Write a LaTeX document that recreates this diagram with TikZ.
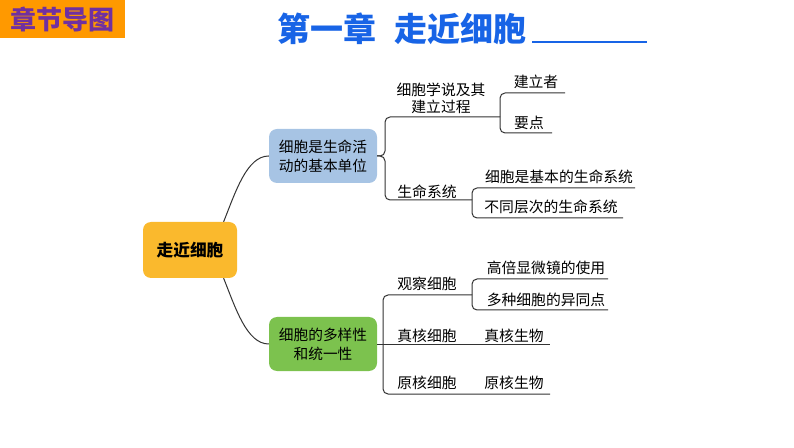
\documentclass[tikz,border=0pt]{standalone}
\usepackage{fontspec}
\setmainfont{Noto Sans CJK SC}
\usepackage{xcolor}
\usepackage{tikz}
\definecolor{tagorange}{RGB}{255,153,0}
\definecolor{tagpurple}{RGB}{112,48,160}
\definecolor{titleblue}{RGB}{24,100,230}
\definecolor{rootorange}{RGB}{250,185,45}
\definecolor{lifeblue}{RGB}{167,196,228}
\definecolor{divgreen}{RGB}{124,194,78}

\begin{document}
\begin{tikzpicture}[x=1pt, y=1pt,
    box/.style={rectangle, rounded corners=8pt, align=center, inner sep=0pt},
    leaf/.style={inner sep=0pt, align=center, font=\fontsize{14.8}{17}\selectfont},
    mapline/.style={draw=black!80, line width=1pt, rounded corners=5pt}]
    \useasboundingbox (0,0) rectangle (794,447);

    % Header
    \node[fill=tagorange, minimum width=125pt, minimum height=38pt, inner sep=0pt, text=tagpurple,
        font=\fontsize{26}{26}\selectfont\bfseries] (tag) at (62.5,428) {章节导图};
    \node[text=titleblue, inner sep=0pt, font=\fontsize{33}{33}\selectfont\bfseries] (title) at (402,418)
        {第一章\hspace{18pt}走近细胞};
    \coordinate (ulstart) at (532,405);
    \coordinate (ulend) at (647,405);
    \draw[titleblue, line width=2pt] (ulstart) -- (ulend);

    % Root
    \node[box, fill=rootorange, minimum width=94pt, minimum height=56pt,
        font=\fontsize{16.7}{20}\selectfont\bfseries] (root) at (190,197) {走近细胞};

    % Main branches
    \node[box, fill=lifeblue, minimum width=108pt, minimum height=54pt,
        font=\fontsize{14.7}{19}\selectfont] (life) at (323,291) {细胞是生命活\\动的基本单位};
    \node[box, fill=divgreen, minimum width=108pt, minimum height=54pt,
        font=\fontsize{14.7}{19}\selectfont] (div) at (323,103) {细胞的多样性\\和统一性};

    \draw[mapline] (root.40) .. controls +(12,30) and +(-22,0) .. (life.west);
    \draw[mapline] (root.-40) .. controls +(12,-30) and +(-22,0) .. (div.west);

    % Life branch
    \coordinate (lifeJ) at (385,291);
    \coordinate (theoryJ) at (500,330);
    \coordinate (builderEnd) at (565,354);
    \coordinate (keyEnd) at (552,314);
    \coordinate (systemJ) at (472,247);
    \coordinate (basicEnd) at (635,259);
    \coordinate (levelEnd) at (623,229);

    \node[leaf, font=\fontsize{14.8}{17}\selectfont] (theory) at (441,349) {细胞学说及其\\建立过程};
    \node[leaf] (builder) at (536,365) {建立者};
    \node[leaf] (key) at (529,324) {要点};
    \node[leaf] (system) at (427,255) {生命系统};
    \node[leaf] (basic) at (559,270) {细胞是基本的生命系统};
    \node[leaf] (level) at (551,240) {不同层次的生命系统};

    \draw[mapline] (life.east) -- (lifeJ) |- (theoryJ);
    \draw[mapline] (life.east) -- (lifeJ) |- (systemJ);
    \draw[mapline] (theoryJ) |- (builderEnd);
    \draw[mapline] (theoryJ) |- (keyEnd);
    \draw[mapline] (systemJ) |- (basicEnd);
    \draw[mapline] (systemJ) |- (levelEnd);

    % Diversity branch
    \coordinate (divJ) at (383,103);
    \coordinate (obsJ) at (472,152);
    \coordinate (hiEnd) at (608,168);
    \coordinate (multiEnd) at (608,137);
    \coordinate (eukEnd) at (550,103);
    \coordinate (proEnd) at (550,53);

    \node[leaf] (observe) at (427,163) {观察细胞};
    \node[leaf] (lens) at (546,179) {高倍显微镜的使用};
    \node[leaf] (compare) at (546,147) {多种细胞的异同点};
    \node[leaf] (eukcell) at (427,111) {真核细胞};
    \node[leaf] (eukorg) at (514,111) {真核生物};
    \node[leaf] (procell) at (427,64) {原核细胞};
    \node[leaf] (proorg) at (514,64) {原核生物};

    \draw[mapline] (div.east) -- (eukEnd);
    \draw[mapline] (divJ) |- (obsJ);
    \draw[mapline] (divJ) |- (proEnd);
    \draw[mapline] (obsJ) |- (hiEnd);
    \draw[mapline] (obsJ) |- (multiEnd);

\end{tikzpicture}
\end{document}
